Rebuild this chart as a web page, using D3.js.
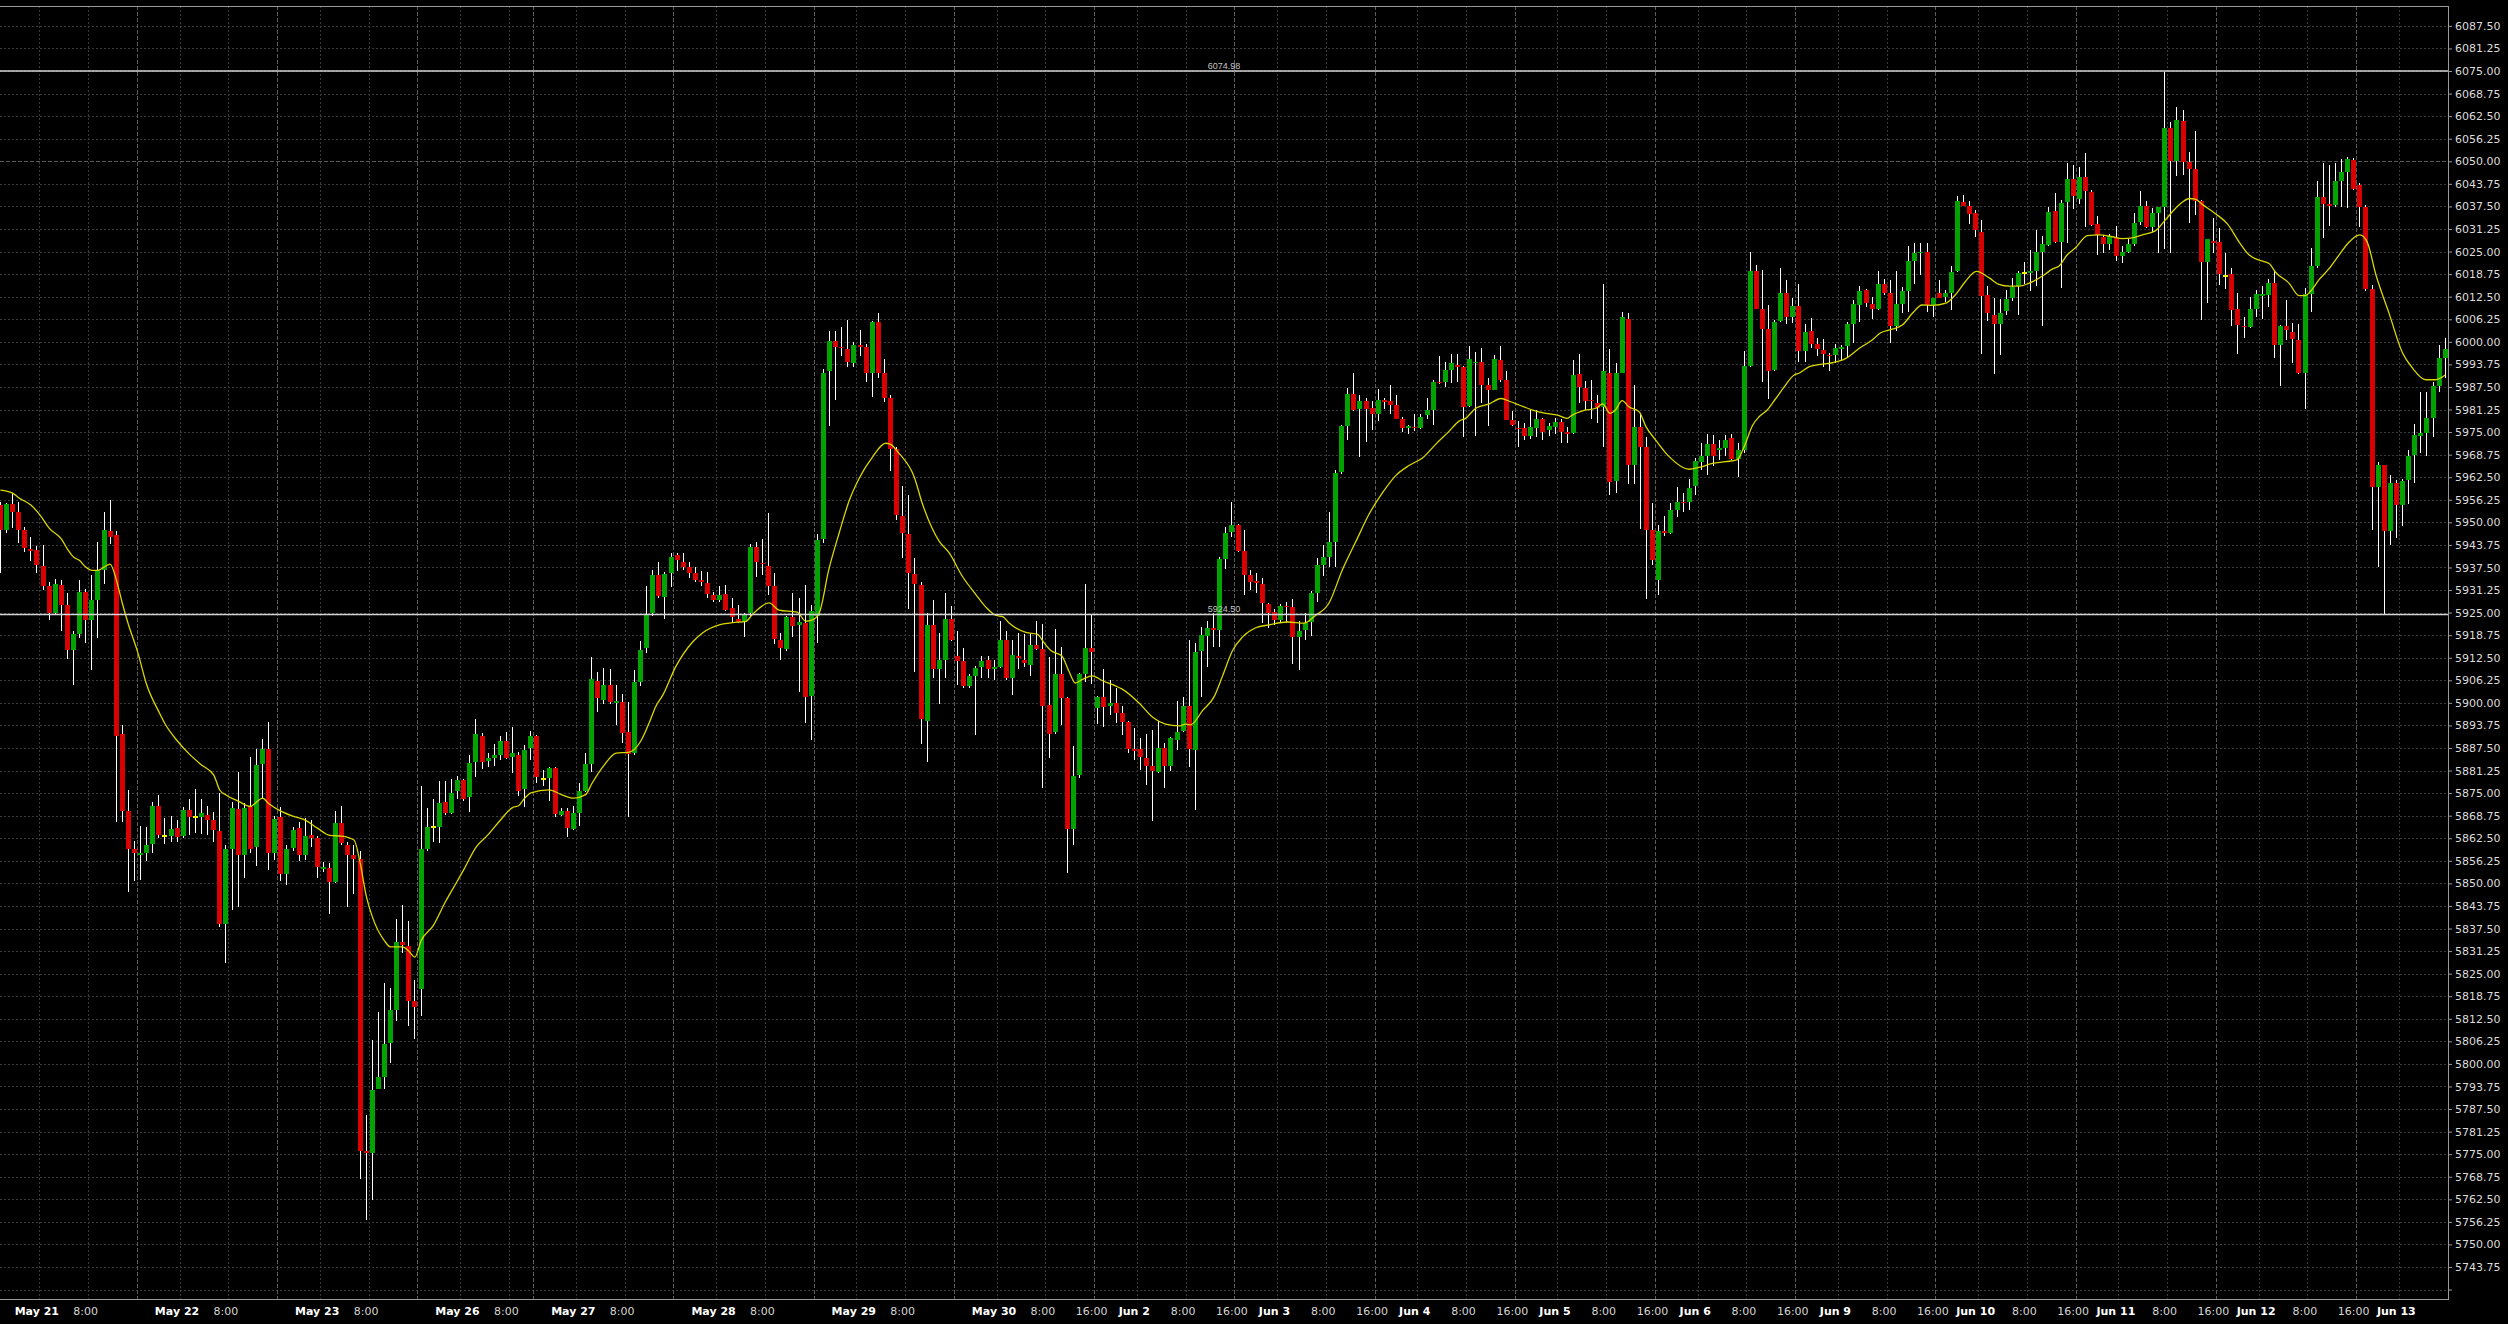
<!DOCTYPE html>
<html>
<head>
<meta charset="utf-8">
<title>ES 60 min</title>
<script src="https://cdn.jsdelivr.net/npm/d3@7"></script>
<style>
    html, body { margin: 0; padding: 0; background: #000; overflow: hidden; }
    svg { display: block; }
</style>
</head>
<body>
<script>
// hourly bars, oldest on the left (402 bars)
var opens = [
    5954.75, 5948, 5955, 5953, 5948, 5942.5, 5942.25, 5938, 5932.5, 5925,
    5932.75, 5927, 5914.75, 5919, 5930.75, 5923, 5928.5, 5936.75, 5947.5, 5946.5,
    5891.25, 5870, 5859.5, 5858, 5858.5, 5861, 5871.5, 5863, 5863, 5865.25,
    5863, 5870.25, 5868.5, 5868.5, 5869, 5867.5, 5864.5, 5838.75, 5859.5, 5870.5,
    5857.75, 5871.25, 5860, 5883, 5887.25, 5858.5, 5868.25, 5852.5, 5859.75, 5865.25,
    5858, 5863.5, 5862.5, 5854, 5854.25, 5850.5, 5866.75, 5860.75, 5858, 5856.75,
    5776, 5775.25, 5793, 5796.5, 5805.75, 5815, 5833.75, 5832.75, 5817.5, 5820.75,
    5859.5, 5865.5, 5865.5, 5872.5, 5869.5, 5875.5, 5878.5, 5874, 5883.5, 5890.75,
    5884, 5884.75, 5885.5, 5889.5, 5885, 5885.5, 5876.25, 5887.5, 5890.75, 5879,
    5879.25, 5882, 5869, 5870, 5865, 5869.5, 5875.5, 5883, 5906, 5900.75,
    5905, 5900, 5900.25, 5892, 5886, 5905.75, 5915.25, 5925, 5935.5, 5929.25,
    5936, 5941, 5939, 5937.5, 5936, 5934, 5933.25, 5929.75, 5928.5, 5930.25,
    5926.25, 5923.25, 5922.5, 5925, 5943.25, 5938.75, 5938, 5932.25, 5917.5, 5915,
    5923.75, 5921.5, 5922, 5902, 5924, 5945.25, 5992, 6000.25, 5998.5, 5998,
    5994, 5999, 5998.5, 5991.25, 6005.5, 5991.5, 5984.5, 5970.25, 5951.75, 5946.75,
    5935.75, 5932.75, 5895, 5921.5, 5909.5, 5912, 5923.25, 5913, 5911.5, 5904.75,
    5907.5, 5910, 5912, 5909.5, 5910, 5917.5, 5907, 5913, 5911.75, 5910.5,
    5916, 5915, 5899.5, 5892, 5908, 5901.25, 5865, 5880, 5908, 5915.25,
    5898.5, 5901.5, 5899, 5900, 5897.25, 5894.75, 5887.25, 5887.25, 5884.75, 5882.5,
    5880.75, 5887.5, 5882.5, 5889.75, 5892.25, 5899, 5887, 5914.25, 5918.5, 5920.75,
    5920.25, 5939.75, 5947.25, 5949.25, 5942, 5935.5, 5933.75, 5933, 5927.5, 5925.25,
    5923, 5926.75, 5926.5, 5918.25, 5920.25, 5922.5, 5930.5, 5938.25, 5940.5, 5944.5,
    5964, 5976.75, 5985.5, 5981.5, 5983.5, 5981.75, 5980, 5983.75, 5983.5, 5982.5,
    5978.75, 5976, 5976.5, 5976.25, 5979.75, 5981, 5989, 5989, 5992.25, 5993.5,
    5993, 5982.25, 5994.25, 5994.5, 5988, 5986.75, 5995, 5989.5, 5978.25, 5976.25,
    5976.25, 5974, 5976.25, 5978.5, 5975.5, 5976.5, 5977.75, 5975, 5974.75, 5991,
    5987.25, 5984, 5983, 5982, 5991.5, 5961.5, 5991.5, 6006.25, 5966, 5976.5,
    5971, 5948, 5934, 5947.5, 5947, 5953.5, 5955.75, 5955.75, 5960, 5966.75,
    5968.5, 5971.75, 5970, 5970.5, 5973.25, 5967.5, 5970, 5993.25, 6019.5, 6009,
    6003.5, 5992.25, 6005.75, 6013.5, 6006.75, 6010, 5997.5, 6003, 5999.5, 5997.75,
    5996.25, 5996.25, 5998, 5998.75, 6005, 6010.25, 6014.25, 6010.5, 6009, 6016,
    6013.5, 6004.5, 6010.5, 6014, 6022.25, 6024.5, 6025, 6010.25, 6013.5, 6012.5,
    6013.5, 6019.5, 6038.75, 6037.75, 6035.75, 6030.5, 6013, 6007.5, 6005, 6008.5,
    6012, 6015.5, 6019, 6019, 6019.5, 6025, 6026.75, 6036.25, 6027.75, 6038.75,
    6045, 6039.5, 6045.75, 6041.5, 6032.5, 6029, 6027, 6028.75, 6023.75, 6025,
    6027, 6033.25, 6037.75, 6031.75, 6035.75, 6037.25, 6059.25, 6050, 6061.25, 6049.75,
    6048, 6039, 6022, 6028, 6027.75, 6018.25, 6018.75, 6009, 6004.25, 6004,
    6009, 6012.75, 6013, 6016.25, 5999.25, 6004.25, 6002.75, 6000.5, 5991.25, 6013.25,
    6021, 6040, 6038.25, 6038, 6044.5, 6047, 6050.25, 6043.5, 6037.25, 6014.5,
    5959.75, 5966, 5947.5, 5961, 5954.75, 5961.75, 5968.75, 5974, 5974.75, 5979,
    5987.75, 5995.5
];
var highs = [
    5955.5, 5955.25, 5958, 5955.5, 5948.75, 5946, 5943.5, 5943.75, 5933.5, 5934.25,
    5934, 5930.5, 5920, 5934, 5931.5, 5935.5, 5944.5, 5952.75, 5956.25, 5947.5,
    5893.75, 5876, 5861.75, 5866, 5865.5, 5872.5, 5874.5, 5868, 5868.75, 5867.5,
    5871.25, 5873.25, 5876.25, 5873.25, 5871.5, 5869.75, 5875, 5860.75, 5872.5, 5880.75,
    5872.25, 5885, 5887.25, 5890, 5894.75, 5868.75, 5871.25, 5860.5, 5865.75, 5867,
    5868, 5867.5, 5863.25, 5856, 5855.75, 5870, 5871.5, 5861.5, 5860.5, 5859,
    5785.75, 5806.5, 5814.5, 5822.5, 5821, 5840.25, 5844, 5839.5, 5823.25, 5877,
    5871, 5873.25, 5878.25, 5878.25, 5879, 5879.75, 5879, 5885.5, 5895.5, 5891.75,
    5886.25, 5888.5, 5890.75, 5892, 5893.25, 5886.5, 5888.25, 5892.25, 5891, 5881.5,
    5882.25, 5882.25, 5871, 5871, 5871.5, 5877.75, 5886.25, 5912.75, 5908.5, 5909.75,
    5909.5, 5905, 5902.5, 5900.25, 5909, 5917, 5932.5, 5936.75, 5939, 5936.25,
    5941.5, 5941.5, 5941.5, 5939, 5937.5, 5936.5, 5936.25, 5930.75, 5932.5, 5932.75,
    5929, 5927, 5925, 5944, 5944.5, 5945.5, 5952.5, 5936, 5919.25, 5924,
    5930.5, 5929, 5932.75, 5927, 5946.75, 5992.5, 6003, 6003, 6004, 6006,
    6000, 6003.25, 5999.5, 6005.75, 6008, 5995.25, 5985.25, 5971, 5960, 5957.5,
    5940.25, 5933.5, 5925, 5928.5, 5919.25, 5930.5, 5926.75, 5920, 5915.25, 5908,
    5910.25, 5913, 5913, 5911.75, 5922.75, 5920, 5917.5, 5919.25, 5919, 5919,
    5922.75, 5921.75, 5912.75, 5920.5, 5915.5, 5901.5, 5888, 5908.25, 5933, 5924.75,
    5902, 5909.5, 5906.25, 5904.25, 5899, 5895, 5893, 5890.25, 5891.25, 5892.5,
    5895, 5888.75, 5890.5, 5900.5, 5901.75, 5917.5, 5916.5, 5921, 5922.75, 5925,
    5940.5, 5948.75, 5955.5, 5949.5, 5948, 5936.75, 5936, 5934.5, 5927.75, 5926,
    5927.25, 5928, 5928.75, 5922.75, 5925, 5931, 5940.25, 5943.75, 5952.75, 5964.5,
    5977, 5987.25, 5991.5, 5985.25, 5984.5, 5983.5, 5987, 5984.5, 5988, 5985.25,
    5979.25, 5977, 5980, 5980, 5984.5, 5989.5, 5996, 5994.5, 5996.5, 5996.5,
    5993.25, 5998.75, 5997.25, 5998.25, 5990, 5996.25, 5998.75, 5992, 5980.75, 5978,
    5977.5, 5981, 5981.25, 5979, 5977.5, 5979, 5978.5, 5976.5, 5995, 5996.75,
    5989.25, 5989.5, 5985.25, 6016, 5998, 5994.25, 6008.25, 6008, 5988, 5980.25,
    5973.75, 5955.25, 5949.25, 5951.75, 5955.25, 5959.75, 5958, 5962, 5967.75, 5972,
    5974.5, 5974.25, 5972.75, 5974.25, 5974.5, 5972, 5997.5, 6025, 6021.25, 6020,
    6010.25, 6006, 6020.5, 6017, 6012, 6016, 6005, 6006.5, 6001, 6000.75,
    5997, 5999.5, 5999, 6005.5, 6011.5, 6015.5, 6014.75, 6012.5, 6019.75, 6017.5,
    6017, 6019.5, 6015.25, 6026.5, 6027.5, 6027.5, 6027.25, 6012, 6017, 6014.25,
    6021, 6040.5, 6040.75, 6039, 6036.5, 6033.75, 6015.5, 6012, 6011.75, 6014.25,
    6017.75, 6019.5, 6022, 6025.5, 6031, 6029.25, 6037.25, 6041.25, 6039.25, 6049.5,
    6049, 6048.5, 6052.25, 6042, 6034.75, 6029.5, 6030, 6032, 6026.5, 6028.5,
    6035.75, 6041.75, 6039, 6037, 6037.25, 6074.75, 6061, 6065, 6064.25, 6052.5,
    6058.5, 6039.25, 6028.5, 6034.25, 6031.5, 6024.5, 6020.5, 6013.5, 6007, 6012.5,
    6014.25, 6015.5, 6017.5, 6019.75, 6004.75, 6011.5, 6005.25, 6005, 6015, 6026,
    6044.5, 6049.5, 6049, 6049.5, 6050.75, 6051.25, 6051, 6044, 6038, 6015.75,
    5966.75, 5966, 5963, 5961.75, 5962, 5970, 5977.25, 5986, 5986, 5989,
    5999, 6001
];
var lows = [
    5936, 5947, 5948.5, 5944.25, 5941.75, 5939.25, 5936, 5931.25, 5923, 5924.25,
    5920, 5912.25, 5905, 5918, 5916.5, 5909, 5918, 5933, 5944, 5867,
    5867, 5847.75, 5850.75, 5851, 5856.25, 5858.5, 5862.5, 5861, 5861.5, 5861.5,
    5862.5, 5863.5, 5864, 5863.75, 5863.5, 5861.5, 5838, 5828, 5842.75, 5843.5,
    5851.5, 5858.5, 5854.75, 5873.5, 5853.75, 5856.5, 5850.75, 5849.5, 5859, 5856.25,
    5856.5, 5860, 5851.5, 5853.25, 5841.5, 5850, 5860.75, 5843.5, 5847, 5768,
    5756.75, 5762.25, 5793, 5793, 5800.25, 5812, 5830.75, 5810.5, 5807, 5813.25,
    5859, 5861.5, 5861.25, 5869, 5869.25, 5873.25, 5872.75, 5869.75, 5879.5, 5881.75,
    5882.25, 5882.5, 5884.25, 5884.5, 5880.5, 5874.25, 5871.25, 5884.25, 5877.75, 5877,
    5872.75, 5868.5, 5868.75, 5862.75, 5864.75, 5866, 5875.25, 5880.75, 5897.5, 5899.75,
    5899.75, 5894, 5889, 5868.25, 5885.5, 5904.75, 5913.75, 5924, 5929, 5923.25,
    5932, 5936.5, 5936.75, 5934.5, 5933.5, 5932.25, 5929, 5928, 5928, 5925.5,
    5922.5, 5922, 5918.25, 5923.75, 5934.75, 5935.5, 5929.75, 5916.25, 5912, 5914.25,
    5918.25, 5903, 5894.5, 5889.75, 5916.5, 5944.25, 5976.75, 5983.75, 5996, 5993,
    5993, 5996, 5989, 5984.75, 5990, 5983.25, 5964.25, 5950.75, 5940, 5926,
    5908.5, 5888.5, 5883.75, 5907, 5899.75, 5906.75, 5917, 5905, 5904.25, 5904,
    5891, 5906.75, 5906.75, 5906.25, 5909.75, 5906.25, 5902.25, 5909.5, 5910, 5907.5,
    5914.75, 5876.5, 5884.75, 5891.5, 5894, 5853, 5860.5, 5879.25, 5905.75, 5905.25,
    5894.25, 5893.25, 5896.75, 5894.5, 5891, 5886.25, 5884.25, 5881.5, 5877.25, 5867.25,
    5880.5, 5876.5, 5881, 5887, 5892, 5882.25, 5870.25, 5901.75, 5910, 5915.5,
    5915.5, 5937, 5946, 5941.75, 5930, 5931.25, 5930.5, 5922, 5920.75, 5921.5,
    5922, 5922, 5910.75, 5909, 5917.5, 5918.5, 5928, 5935, 5937.75, 5937.75,
    5963.5, 5972.75, 5980.75, 5968, 5972.25, 5975.5, 5978, 5981.5, 5980, 5978.5,
    5975, 5974.5, 5975.25, 5975.75, 5978.5, 5977, 5988.25, 5987.5, 5988.5, 5988.75,
    5973.75, 5982, 5974, 5983, 5976.75, 5986.75, 5989, 5978.25, 5976.75, 5971,
    5972.75, 5973, 5973.75, 5972.75, 5974, 5974.5, 5972, 5972, 5974.5, 5983,
    5981.25, 5978.75, 5977.5, 5970.75, 5957.5, 5958.25, 5991.25, 5960.75, 5960.75, 5948.25,
    5928.75, 5938.25, 5930, 5946.25, 5946.75, 5951.5, 5953, 5953.5, 5957.5, 5964.5,
    5963, 5965.5, 5967.25, 5968.5, 5967.25, 5962.5, 5969.25, 5993, 6009, 5988.75,
    5984.25, 5992, 6005.5, 6005, 6005.25, 5994.5, 5994.5, 5998.25, 5996, 5993,
    5992, 5994.25, 5995, 5995.5, 5999.75, 6005.5, 6009.75, 6006.25, 6008.75, 6013,
    5999.75, 6003, 6008, 6008.25, 6016, 6018.5, 6008.25, 6006.75, 6012, 6011,
    6008.75, 6019.25, 6037.5, 6032.75, 6029, 5996.5, 6005.75, 5991, 5996.25, 6007.5,
    6011.25, 6007.5, 6016, 6014, 6015.5, 6004.25, 6026.5, 6027.5, 6015, 6027.5,
    6036.75, 6038.25, 6031.75, 6032, 6024, 6024.5, 6025.5, 6022.25, 6021.75, 6024.5,
    6026.5, 6032.25, 6031.5, 6030.5, 6024.5, 6025.75, 6024.5, 6046, 6046.25, 6033,
    6035, 6006, 6010.75, 6024.5, 6015.75, 6014.75, 6004.25, 5996.75, 6001, 6003.75,
    6007, 6006.25, 6009.75, 5995.5, 5987.75, 6000.5, 5994, 5991, 5981.5, 6008.25,
    6020.5, 6028.75, 6032, 6037.25, 6037.25, 6037, 6042, 6031.75, 6014, 5948,
    5937.5, 5924.5, 5943.75, 5945.75, 5949, 5955, 5961, 5969.25, 5968.25, 5973.75,
    5986, 5990
];
var closes = [
    5948, 5955, 5953, 5948, 5943, 5942, 5938.25, 5932.5, 5925, 5933,
    5927, 5914.75, 5919, 5930.75, 5923, 5928.5, 5936.75, 5948, 5946, 5890.75,
    5870, 5859.5, 5858.5, 5858.5, 5860.5, 5871.5, 5863.5, 5863, 5865, 5862.75,
    5870.25, 5868.5, 5868.5, 5869.5, 5867.5, 5864.75, 5838.75, 5859.5, 5871, 5857.75,
    5871, 5859.5, 5882.75, 5887.25, 5858.5, 5867.75, 5852.5, 5859.5, 5864.75, 5858,
    5863, 5862.5, 5854.5, 5854.5, 5850.5, 5866.75, 5861.25, 5858, 5856.75, 5776,
    5775.25, 5792.75, 5796.25, 5805.5, 5815, 5833.75, 5833, 5817.5, 5815.75, 5859.5,
    5865.75, 5865.5, 5872.25, 5869.5, 5875, 5878.5, 5873.25, 5883.25, 5891.25, 5883.75,
    5884.75, 5885.5, 5889.5, 5884.75, 5886, 5875.5, 5887, 5890.75, 5879.5, 5879,
    5882, 5869.25, 5870, 5865.25, 5869.5, 5875.5, 5883, 5906.5, 5901.25, 5905,
    5900.25, 5900.5, 5891.75, 5885.75, 5905.75, 5914.75, 5924.75, 5935.5, 5929.5, 5935.75,
    5940.5, 5939.5, 5937.5, 5936, 5934, 5933.5, 5930.25, 5928.5, 5929.75, 5925.75,
    5923.75, 5922.5, 5924.75, 5943.25, 5939, 5938.5, 5932.25, 5917.75, 5915.25, 5923.75,
    5921.25, 5922.5, 5901.75, 5925.5, 5945, 5991.5, 6000.25, 5998.5, 5998.25, 5994.5,
    5999, 5998.5, 5991.25, 6005.5, 5991.5, 5984.5, 5970.25, 5952, 5947, 5936,
    5933, 5895.5, 5921.5, 5909.5, 5911.75, 5923.25, 5917.5, 5911.5, 5904.75, 5907.5,
    5909.75, 5911.5, 5909.5, 5910, 5917.5, 5906.75, 5913.25, 5912.5, 5911, 5916,
    5915, 5899.25, 5891.5, 5908, 5901.25, 5865, 5879.75, 5908, 5915.25, 5914,
    5901.5, 5898.75, 5900, 5897.25, 5894.75, 5887.25, 5886.75, 5885, 5882.5, 5881,
    5887.5, 5882.5, 5890.25, 5892, 5899, 5887.25, 5914, 5918.75, 5920.75, 5920.25,
    5939.75, 5947, 5949.25, 5942, 5935.5, 5933.5, 5933.25, 5927.75, 5925, 5923,
    5926.75, 5926.5, 5918.25, 5920, 5922.25, 5930.5, 5938.25, 5940.5, 5944.5, 5963.75,
    5976.75, 5985.5, 5981.25, 5983.5, 5981.5, 5980, 5983.75, 5983.25, 5982.5, 5978.75,
    5976, 5976.75, 5976.25, 5979.25, 5981, 5989, 5988.5, 5992.25, 5994, 5993,
    5982, 5995.25, 5994.5, 5988, 5986.75, 5995.25, 5989.5, 5978.25, 5977, 5975.75,
    5974, 5976.5, 5978.5, 5975, 5976.75, 5977.75, 5975, 5974.5, 5990.75, 5987.5,
    5983.5, 5983.5, 5981.75, 5992, 5961.25, 5991.5, 6006.75, 5966, 5976.5, 5971,
    5948, 5939.5, 5947.5, 5947, 5953.5, 5955.75, 5955.5, 5959.5, 5967, 5968.25,
    5971.75, 5968.5, 5970.5, 5972.75, 5967.5, 5970, 5993.25, 6019.5, 6009, 6003.5,
    5992, 6005.5, 6013.5, 6007, 6010, 5997.5, 6002.75, 5999.5, 5998, 5996.5,
    5996, 5998.25, 5998.5, 6005, 6010.5, 6014, 6010.75, 6009, 6016, 6013.5,
    6004.5, 6010.5, 6014, 6022.25, 6024.5, 6025, 6010.25, 6012, 6012.25, 6013.5,
    6019.25, 6039, 6037.75, 6035.5, 6031, 6012.75, 6008, 6005, 6008, 6011.75,
    6015.25, 6019, 6019, 6019.75, 6025, 6027, 6036, 6027.75, 6038.5, 6045,
    6040.5, 6045.75, 6041.75, 6032.25, 6029.5, 6027, 6029.25, 6023.75, 6025, 6027,
    6033, 6037.75, 6031.75, 6035.75, 6037.25, 6059.25, 6050, 6061.5, 6049.75, 6048,
    6039, 6022, 6028.5, 6027.5, 6018.75, 6018.25, 6008.75, 6004.75, 6004, 6009,
    6013.25, 6013.25, 6016.25, 5999.25, 6004.25, 6003.25, 6000.75, 5991.5, 6013.25, 6021,
    6040, 6038.25, 6037.75, 6044.5, 6047, 6050.5, 6042.25, 6037.25, 6014.5, 5959.75,
    5966, 5947.5, 5961, 5954.75, 5961.5, 5968.5, 5974.25, 5974.75, 5979, 5987.75,
    5995.5, 5998
];

// yellow average line at bar positions
var maBar = [
    0, 2, 3, 5, 6.6, 8, 10, 11, 12, 13, 14, 15, 16, 17, 18, 19, 20, 21, 22.5, 24,
    26, 27, 29, 31, 33, 35, 36, 37, 39, 41, 42, 43, 44, 46, 48, 50, 52, 54, 56, 58,
    59, 60, 61, 63, 64, 66, 67, 68, 69, 71, 73, 75, 76, 78, 80, 82,
    84, 85, 86, 87, 90, 92, 94, 96, 97, 99, 101, 103, 105, 106.4, 107.5, 108.6, 110.8, 113.5, 115.1, 117.9,
    120.1, 122.3, 123.3, 126.1, 127.7, 130.7, 132.1, 133.2, 134.3, 135.9, 137.6, 139.2, 140.8, 143, 145.2, 146,
    147.4, 149.9, 151.2, 154, 155.6, 157.8,
    160, 161.6, 163.3, 164.4, 165.4, 168.2, 170.1, 171.2, 172.3, 174.1, 175.3, 176.3, 177.5, 179.1, 180.7, 182.9,
    184, 186.8, 189, 191.1, 193.3, 194.4, 195.2, 197.2, 199.1, 200.4, 202.1, 203.7, 205.9, 208.1, 211.1, 213.8,
    215.7, 217.9, 220.1, 222.3, 224.5, 226.7, 228.9, 231.1, 233.3, 235.4, 237.6, 239.3,
    240.3, 242, 244.2, 246.1, 247.7, 249.1, 251.3, 253.5, 255.4, 257, 257.8, 259.5, 261.7, 262.8, 264, 264.9,
    266, 267.1, 268.8, 269.9, 271.5, 273.7, 277, 278.6, 280.8, 283, 284.9, 286, 287.4, 288.5, 289.8, 291.2,
    292.6, 294.2, 295, 296.7, 298.8, 300.5, 302.7, 304.9, 307, 308.4, 310.3, 312, 313.6, 315.2, 316.9, 319.1,
    320.7, 322.3, 324.1, 326.2, 327.8, 329.5, 331.1, 332.7, 335.2, 336.6, 337.6, 339, 340.4, 342.3, 344.2, 346.4,
    348, 349.7, 351.3, 353.5, 355.2, 356.5, 357.9, 359, 360, 361.2, 363.3, 365.3, 367.2, 368.8, 370.5, 372.1,
    373.2, 375.4, 377, 378.1, 378.9, 380.3, 381.9, 383.6, 385.2, 387, 388.2, 389.6, 391.8, 394, 395.6, 397.8,
    399.4, 401
];
var maValue = [
    5958.9, 5958.1, 5956.8, 5954.8, 5951.8, 5948.4, 5945.4, 5942.6, 5940.4, 5939.4, 5937.6, 5936.7, 5936.7, 5937.6, 5938.4, 5934.2, 5927.6, 5921.7, 5914.2, 5905.0,
    5897.5, 5894.2, 5889.5, 5885.8, 5882.8, 5880.0, 5875.8, 5874.5, 5872.8, 5871.3, 5872.5, 5873.6, 5872.1, 5870.0, 5868.6, 5867.5, 5865.3, 5863.3, 5863.1, 5862.0,
    5855.8, 5846.6, 5840.8, 5834.1, 5832.4, 5832.4, 5831.2, 5829.6, 5834.1, 5838.3, 5844.9, 5850.8, 5853.8, 5860.0, 5863.5, 5867.5,
    5871.0, 5871.5, 5873.6, 5875.1, 5875.9, 5874.6, 5873.6, 5874.6, 5877.6, 5882.7, 5886.1, 5886.3, 5889.3, 5894.4, 5899.0, 5902.0, 5910.1, 5916.8, 5919.3, 5921.6,
    5922.2, 5922.6, 5924.4, 5927.7, 5925.7, 5925.1, 5922.6, 5923.0, 5924.9, 5937.1, 5947.2, 5955.9, 5962.0, 5968.0, 5971.9, 5971.6,
    5969.1, 5962.5, 5955.3, 5944.7, 5941.6, 5935.0,
    5930.0, 5926.6, 5924.2, 5923.9, 5922.2, 5919.5, 5919.0, 5916.6, 5914.5, 5913.0, 5908.6, 5905.5, 5906.5, 5907.5, 5906.2, 5904.7,
    5903.8, 5899.9, 5896.0, 5894.1, 5893.6, 5894.1, 5893.9, 5897.9, 5901.8, 5907.2, 5914.5, 5918.2, 5920.8, 5921.6, 5922.4, 5922.1,
    5924.2, 5927.6, 5936.8, 5944.6, 5952.3, 5958.2, 5963.0, 5965.8, 5967.9, 5971.6, 5975.2, 5978.1,
    5978.8, 5981.6, 5982.8, 5984.3, 5983.4, 5982.5, 5981.1, 5980.2, 5979.7, 5978.8, 5979.7, 5980.9, 5981.6, 5982.8, 5980.2, 5981.1,
    5983.7, 5982.0, 5980.6, 5976.5, 5972.8, 5968.2, 5964.7, 5965.2, 5966.3, 5966.8, 5967.4, 5970.9, 5976.9, 5979.3, 5981.1, 5984.3,
    5987.6, 5990.8, 5991.3, 5993.1, 5993.8, 5994.2, 5995.4, 5998.2, 6000.5, 6002.5, 6003.5, 6004.7, 6007.9, 6010.2, 6010.1, 6010.7,
    6013.1, 6016.7, 6019.5, 6017.7, 6015.9, 6015.4, 6015.4, 6016.2, 6018.5, 6020.2, 6020.9, 6024.1, 6026.1, 6029.4, 6029.6, 6029.1,
    6028.6, 6028.8, 6029.6, 6030.8, 6034.0, 6036.5, 6038.7, 6039.7, 6039.5, 6038.0, 6035.5, 6032.6, 6027.6, 6024.1, 6022.6, 6021.7,
    6019.2, 6016.2, 6012.8, 6012.8, 6014.0, 6017.2, 6020.2, 6024.1, 6027.6, 6029.6, 6027.6, 6018.7, 6007.8, 5996.9, 5992.8, 5989.5,
    5989.5, 5990.8
];

// price axis
var priceLevels = [
    6087.5, 6081.25, 6075, 6068.75, 6062.5, 6056.25, 6050, 6043.75, 6037.5, 6031.25,
    6025, 6018.75, 6012.5, 6006.25, 6000, 5993.75, 5987.5, 5981.25, 5975, 5968.75,
    5962.5, 5956.25, 5950, 5943.75, 5937.5, 5931.25, 5925, 5918.75, 5912.5, 5906.25,
    5900, 5893.75, 5887.5, 5881.25, 5875, 5868.75, 5862.5, 5856.25, 5850, 5843.75,
    5837.5, 5831.25, 5825, 5818.75, 5812.5, 5806.25, 5800, 5793.75, 5787.5, 5781.25,
    5775, 5768.75, 5762.5, 5756.25, 5750, 5743.75, 5737.5
];
var dashedLevels = [6050];
var refLevels = [6074.98, 5924.50];

// time axis, positions are bar boundaries
var tickBar = [
    7, 15, 30, 38, 53, 61, 76, 84, 95, 103, 118, 126, 141, 149,
    164, 172, 180, 187, 195, 203, 210, 218, 226, 233, 241, 249, 256, 264, 272,
    279, 287, 295, 302, 310, 318, 325, 333, 341, 348, 356, 364, 371, 379, 387, 394
];
var tickText = [
    'May 21', '8:00', 'May 22', '8:00', 'May 23', '8:00', 'May 26', '8:00', 'May 27', '8:00', 'May 28', '8:00', 'May 29', '8:00',
    'May 30', '8:00', '16:00', 'Jun 2', '8:00', '16:00', 'Jun 3', '8:00', '16:00', 'Jun 4', '8:00', '16:00', 'Jun 5', '8:00', '16:00',
    'Jun 6', '8:00', '16:00', 'Jun 9', '8:00', '16:00', 'Jun 10', '8:00', '16:00', 'Jun 11', '8:00', '16:00', 'Jun 12', '8:00', '16:00', 'Jun 13'
];
var gridBar = [
    7, 15, 30, 38, 53, 61, 76, 84, 95, 103, 118, 126, 141, 149, 164, 172, 187, 195,
    210, 218, 233, 241, 256, 264, 279, 287, 302, 310, 325, 333, 348, 356, 371, 379, 394
];
var sessionBreakBar = [23, 46, 69, 88, 111, 134, 157, 180, 203, 226, 249, 272, 295, 318, 341, 364, 387];

var candleChart = function () {
    var width = 2508;
    var height = 1324;
    var plotRight = 2448,
        plotTop = 6,
        plotBottom = 1299;

    var upColor = '#00a300',
        downColor = '#d80000',
        flatColor = '#f2f200',
        maColor = '#d9d600';
    var gridColor = '#3a3a3a',
        dashColor = '#5a5a5a',
        axisColor = '#9a9a9a';

    var svg, plot, x, xEdge, y;

    function render() {
        svg = d3.select('body')
            .append('svg')
            .attr('width', width)
            .attr('height', height);

        svg.append('rect')
            .attr('width', width)
            .attr('height', height)
            .attr('fill', '#000');

        svg.append('clipPath')
            .attr('id', 'plot-clip')
            .append('rect')
            .attr('x', 0)
            .attr('y', plotTop)
            .attr('width', plotRight)
            .attr('height', plotBottom - plotTop);

        //scales: bar centres, and the boundaries between bars for the grid
        x = d3.scaleLinear().domain([0, 401]).range([0.37, 2445.26]);
        xEdge = d3.scaleLinear().domain([0.5, 401.5]).range([-0.33, 2444.56]);
        y = d3.scaleLinear().domain([5743.75, 6087.5]).range([1267, 25.9]);

        drawGrid();

        plot = svg.append('g').attr('clip-path', 'url(#plot-clip)');
        drawCandles();
        drawAverage();
        drawRefLines();

        drawAxes();
    }

    function crisp(v) {
        return Math.round(v) + 0.5;
    }

    function drawGrid() {
        var grid = svg.append('g')
            .attr('shape-rendering', 'crispEdges')
            .attr('stroke-width', 1);

        grid.selectAll('line.h-grid')
            .data(priceLevels)
            .enter().append('line')
            .attr('class', 'h-grid')
            .attr('x1', 0)
            .attr('x2', plotRight)
            .attr('y1', function (d) { return crisp(y(d)); })
            .attr('y2', function (d) { return crisp(y(d)); })
            .attr('stroke', function (d) { return dashedLevels.indexOf(d) >= 0 ? dashColor : gridColor; })
            .attr('stroke-dasharray', function (d) { return dashedLevels.indexOf(d) >= 0 ? '4,2' : '2,2'; });

        grid.selectAll('line.v-grid')
            .data(gridBar)
            .enter().append('line')
            .attr('class', 'v-grid')
            .attr('x1', function (d) { return crisp(xEdge(d)); })
            .attr('x2', function (d) { return crisp(xEdge(d)); })
            .attr('y1', plotTop)
            .attr('y2', plotBottom)
            .attr('stroke', gridColor)
            .attr('stroke-dasharray', '2,2');

        grid.selectAll('line.v-break')
            .data(sessionBreakBar)
            .enter().append('line')
            .attr('class', 'v-break')
            .attr('x1', function (d) { return crisp(xEdge(d)); })
            .attr('x2', function (d) { return crisp(xEdge(d)); })
            .attr('y1', plotTop)
            .attr('y2', plotBottom)
            .attr('stroke', dashColor)
            .attr('stroke-dasharray', '4,2');
    }

    function drawCandles() {
        var bars = d3.range(closes.length).map(function (i) {
            return {i: i, o: opens[i], h: highs[i], l: lows[i], c: closes[i]};
        });

        var g = plot.append('g').attr('shape-rendering', 'crispEdges');

        var candle = g.selectAll('g.bar')
            .data(bars)
            .enter().append('g')
            .attr('class', 'bar');

        //wick
        candle.append('rect')
            .attr('x', function (d) { return Math.round(x(d.i) - 2.5) + 2; })
            .attr('width', 1)
            .attr('y', function (d) { return Math.round(y(d.h)); })
            .attr('height', function (d) {
                return Math.max(1, Math.round(y(d.l)) - Math.round(y(d.h)));
            })
            .attr('fill', '#ffffff');

        //body
        candle.append('rect')
            .attr('x', function (d) { return Math.round(x(d.i) - 2.5); })
            .attr('width', 5)
            .attr('y', function (d) {
                if (d.o === d.c) return Math.round(y(d.c)) - 1;
                return Math.round(y(Math.max(d.o, d.c)));
            })
            .attr('height', function (d) {
                if (d.o === d.c) return 2;
                return Math.max(1, Math.round(y(Math.min(d.o, d.c))) - Math.round(y(Math.max(d.o, d.c))));
            })
            .attr('fill', function (d) {
                if (d.c > d.o) return upColor;
                if (d.c < d.o) return downColor;
                return flatColor;
            });
    }

    function drawAverage() {
        var points = maBar.map(function (b, k) { return [b, maValue[k]]; });
        var line = d3.line()
            .x(function (d) { return x(d[0]); })
            .y(function (d) { return y(d[1]); })
            .curve(d3.curveMonotoneX);

        plot.append('path')
            .datum(points)
            .attr('d', line)
            .attr('fill', 'none')
            .attr('stroke', maColor)
            .attr('stroke-width', 1.3);
    }

    function drawRefLines() {
        var g = plot.append('g');

        g.selectAll('line')
            .data(refLevels)
            .enter().append('line')
            .attr('x1', 0)
            .attr('x2', plotRight)
            .attr('y1', function (d) { return y(d); })
            .attr('y2', function (d) { return y(d); })
            .attr('stroke', '#d4d4d4')
            .attr('stroke-width', 1.5);

        g.selectAll('text')
            .data(refLevels)
            .enter().append('text')
            .attr('x', plotRight / 2)
            .attr('y', function (d) { return y(d) - 2.5; })
            .attr('text-anchor', 'middle')
            .attr('fill', '#c4c4c4')
            .style('font-family', '"Liberation Sans", Arial, sans-serif')
            .style('font-size', '9px')
            .text(d3.format('.2f'));
    }

    function drawAxes() {
        //price axis
        var yAxisElem = svg.append('g')
            .attr('transform', 'translate(' + plotRight + ',0)')
            .call(d3.axisRight(y)
                .tickValues(priceLevels)
                .tickSize(4)
                .tickPadding(3)
                .tickFormat(d3.format('.2f')));

        yAxisElem.select('.domain').remove();
        yAxisElem.selectAll('.tick line').attr('stroke', axisColor);
        yAxisElem.selectAll('.tick text')
            .attr('fill', '#dcdcdc')
            .style('font-family', '"DejaVu Sans", sans-serif')
            .style('font-size', '11px')
            .attr('display', function (d) { return y(d) > plotBottom - 20 ? 'none' : null; });

        //time axis
        var xAxisElem = svg.append('g')
            .attr('transform', 'translate(-3,' + plotBottom + ')')
            .call(d3.axisBottom(xEdge)
                .tickValues(tickBar)
                .tickSize(0)
                .tickPadding(8)
                .tickFormat(function (d) { return tickText[tickBar.indexOf(d)]; }));

        xAxisElem.select('.domain').remove();
        xAxisElem.selectAll('.tick text')
            .style('font-family', '"DejaVu Sans", sans-serif')
            .style('font-size', '11px')
            .style('font-weight', function (d) {
                return /[A-Za-z]/.test(tickText[tickBar.indexOf(d)]) ? 'bold' : 'normal';
            })
            .attr('fill', function (d) {
                return /[A-Za-z]/.test(tickText[tickBar.indexOf(d)]) ? '#ffffff' : '#d6d6d6';
            });

        //frame
        var frame = svg.append('g')
            .attr('stroke', axisColor)
            .attr('shape-rendering', 'crispEdges');
        frame.append('line')
            .attr('x1', 0).attr('x2', plotRight + 0.5)
            .attr('y1', plotTop + 0.5).attr('y2', plotTop + 0.5);
        frame.append('line')
            .attr('x1', 0).attr('x2', plotRight + 0.5)
            .attr('y1', plotBottom + 0.5).attr('y2', plotBottom + 0.5);
        frame.append('line')
            .attr('x1', plotRight + 0.5).attr('x2', plotRight + 0.5)
            .attr('y1', plotTop + 0.5).attr('y2', plotBottom + 0.5);
    }

    return {
        render: render
    };
}();

candleChart.render();
</script>
</body>
</html>
